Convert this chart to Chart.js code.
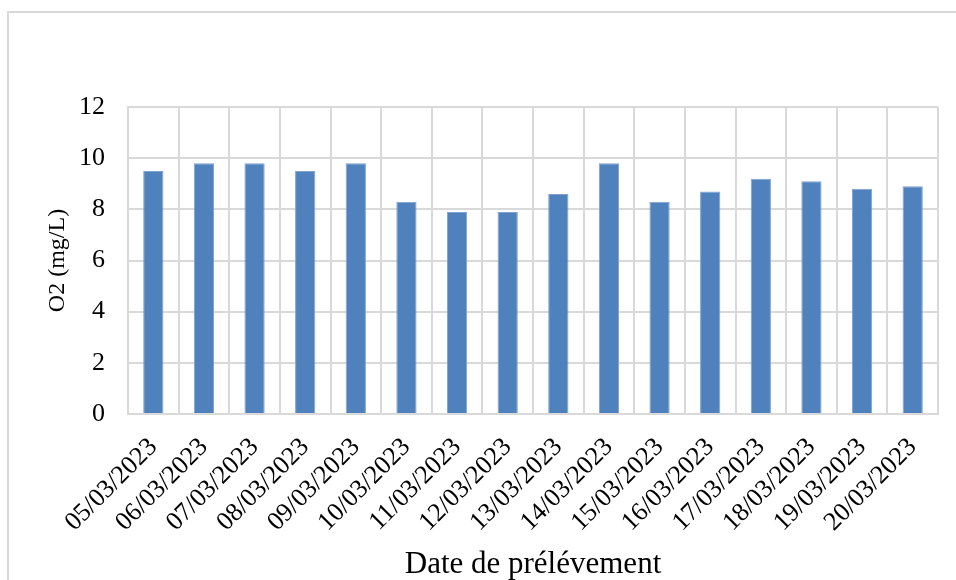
<!DOCTYPE html>
<html lang="fr">
<head>
    <meta charset="UTF-8">
    <title>O2 (mg/L)</title>
    <script src="https://cdn.jsdelivr.net/npm/chart.js"></script>
    <style>
        body { margin: 0; background: #fff; }
        #wrap { position: relative; width: 956px; height: 580px; overflow: hidden; }
        #frame { position: absolute; left: 7px; top: 11px; width: 1000px; height: 700px;
                 border-left: 2px solid #d9d9d9; border-top: 2px solid #d9d9d9; }
        #o2Chart { position: absolute; left: 0; top: 0; }
    </style>
</head>
<body>
<div id="wrap">
    <div id="frame"></div>
    <canvas id="o2Chart" width="956" height="580"></canvas>
</div>

<script>
    // Dates de prélèvement
    const dates = [
        '05/03/2023', '06/03/2023', '07/03/2023', '08/03/2023',
        '09/03/2023', '10/03/2023', '11/03/2023', '12/03/2023',
        '13/03/2023', '14/03/2023', '15/03/2023', '16/03/2023',
        '17/03/2023', '18/03/2023', '19/03/2023', '20/03/2023'
    ];
    // Oxygène dissous (mg/L)
    const o2Values = [9.5, 9.8, 9.8, 9.5, 9.8, 8.3, 7.9, 7.9, 8.6, 9.8, 8.3, 8.7, 9.2, 9.1, 8.8, 8.9];
    const yTicks = [0, 2, 4, 6, 8, 10, 12];

    const serif = "'Liberation Serif', 'Times New Roman', serif";
    const gridColor = '#d9d9d9';

    const ctx = document.getElementById('o2Chart').getContext('2d');
    const o2Chart = new Chart(ctx, {
        type: 'bar',
        data: {
            labels: dates,
            datasets: [{
                label: 'O2 (mg/L)',
                data: o2Values,
                backgroundColor: '#4f81bd',
                borderColor: '#7fa2cf',
                borderWidth: 1,
                barPercentage: 0.4,
                categoryPercentage: 1.0
            }]
        },
        options: {
            responsive: false,
            animation: false,
            layout: { padding: { top: 107, right: 18, left: 0, bottom: 0 } },
            plugins: {
                legend: { display: false },
                tooltip: { enabled: false }
            },
            scales: {
                x: {
                    grid: { color: gridColor, lineWidth: 2, drawTicks: false, offset: true },
                    border: { color: gridColor, width: 2 },
                    ticks: {
                        color: '#000',
                        font: { family: serif, size: 26 },
                        minRotation: 45,
                        maxRotation: 45,
                        padding: 18,
                        autoSkip: false
                    },
                    title: {
                        display: true,
                        text: 'Date de prélévement',
                        color: '#000',
                        font: { family: serif, size: 31, lineHeight: 1 },
                        padding: { top: 0, bottom: 0 }
                    },
                    afterFit: (scale) => { scale.height = 166; }
                },
                y: {
                    min: 0,
                    max: 12,
                    afterBuildTicks: (scale) => { scale.ticks = yTicks.map(v => ({ value: v })); },
                    grid: { color: gridColor, lineWidth: 2, drawTicks: false },
                    border: { color: gridColor, width: 2 },
                    ticks: {
                        color: '#000',
                        font: { family: serif, size: 26 },
                        padding: 23
                    },
                    title: {
                        display: true,
                        text: 'O2 (mg/L)',
                        color: '#000',
                        font: { family: serif, size: 24, lineHeight: 1.2 },
                        padding: { top: 43, bottom: 0 }
                    },
                    afterFit: (scale) => { scale.width = 128; }
                }
            }
        }
    });
</script>
</body>
</html>
